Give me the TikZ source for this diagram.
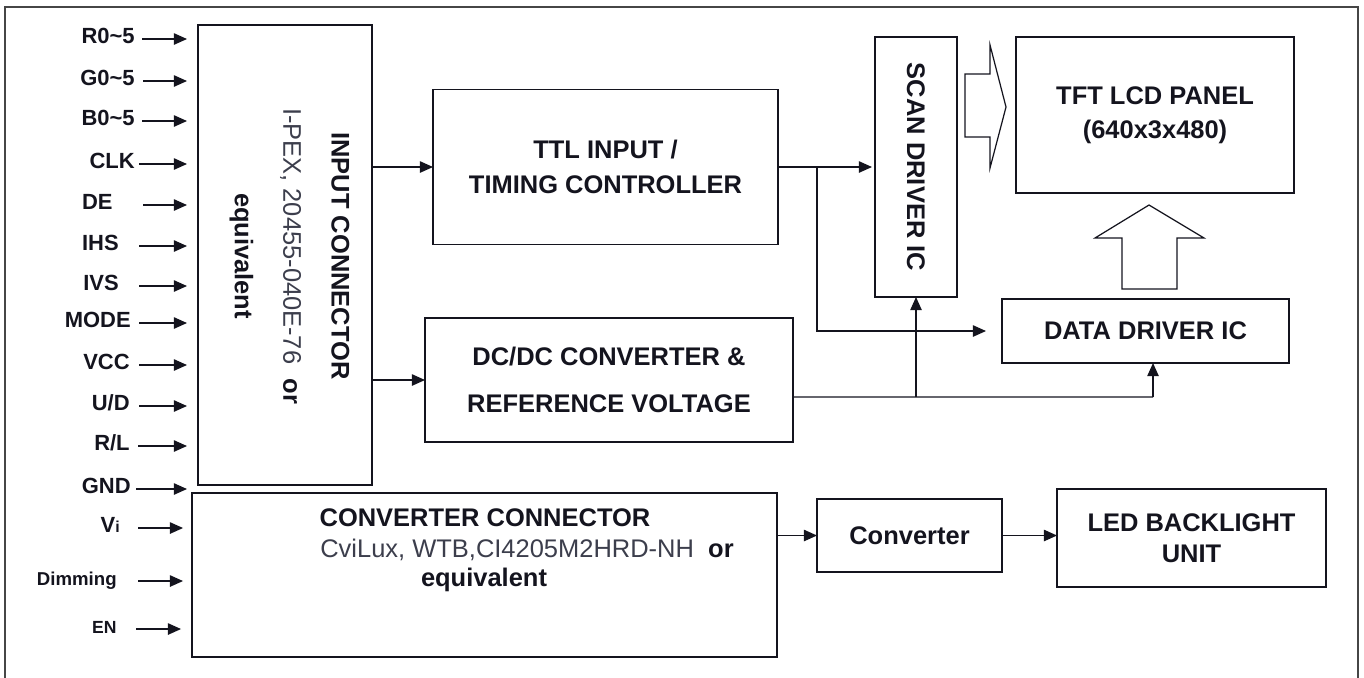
\documentclass[tikz,border=0pt]{standalone}
\usepackage{fontspec}
\setmainfont{Liberation Sans}
\usetikzlibrary{arrows.meta, positioning}
\definecolor{ink}{RGB}{20, 20, 30}
\definecolor{specgray}{RGB}{60, 62, 76}
\definecolor{framegray}{RGB}{70, 70, 70}

\begin{document}
\begin{tikzpicture}[x=0.02cm, y=-0.02cm,
      every node/.style={font=\bfseries\fontsize{14.5}{19.5}\selectfont, text=ink},
      box/.style={rectangle, draw=ink, line width=0.8pt, inner sep=0pt,
                  outer sep=0pt, align=center},
      pin/.style={anchor=mid east, inner sep=0pt,
                  font=\bfseries\fontsize{12.5}{14}\selectfont},
      arrow/.style={-{Triangle[length=7.5pt, width=6.5pt]}, line width=0.8pt, draw=ink},
      link/.style={line width=0.8pt, draw=ink}
    ]
    \useasboundingbox (0,0) rectangle (1364,677);
    \draw[framegray, line width=1.1pt] (5,690) -- (5,7) -- (1358,7) -- (1358,690);

    % blocks
    \node[box, minimum width=3.48cm, minimum height=9.2cm] (inconn) at (285,255) {};
    \node[box, minimum width=6.9cm, minimum height=3.1cm] (ttl) at (605.5,167)
          {TTL INPUT /\\TIMING CONTROLLER};
    \node[box, minimum width=7.36cm, minimum height=2.48cm] (dcdc) at (609,380)
          {DC/DC CONVERTER \&\\[7pt]REFERENCE VOLTAGE};
    \node[box, minimum width=1.64cm, minimum height=5.2cm] (scan) at (916,167) {};
    \node[box, minimum width=5.56cm, minimum height=3.12cm] (panel) at (1155,115)
          {TFT LCD PANEL\\(640x3x480)};
    \node[box, minimum width=5.74cm, minimum height=1.28cm] (datadrv) at (1145.5,331)
          {DATA DRIVER IC};
    \node[box, minimum width=11.7cm, minimum height=3.28cm] (convconn) at (484.5,575) {};
    \node[box, minimum width=3.7cm, minimum height=1.46cm] (conv) at (909.5,535.5)
          {Converter};
    \node[box, minimum width=5.38cm, minimum height=1.96cm] (led) at (1191.5,538)
          {LED BACKLIGHT\\[-2pt]UNIT};

    % texts set sideways
    \node[rotate=-90, align=center, font=\bfseries\fontsize{14.5}{27.5}\selectfont]
          (inconntxt) at (289.5,256)
          {INPUT CONNECTOR\\{\mdseries\color{specgray}I-PEX, 20455-040E-76}\ \ or\\equivalent};
    \node[rotate=-90] (scantxt) at (scan) {SCAN DRIVER IC};

    % converter connector texts
    \node (cctitle) at (485,518) {CONVERTER CONNECTOR};
    \node (ccpart) at (527,550)
          {{\mdseries\color{specgray}CviLux, WTB,CI4205M2HRD-NH}\ \ or};
    \node (ccequiv) at (484,580) {equivalent};

    % input pins
    \foreach \txt/\ty/\tx/\ax/\tgt/\sh [count=\i] in {
        R0\textasciitilde5/39/135/142/inconn/2.2mm,
        G0\textasciitilde5/81/135/143/inconn/2.2mm,
        B0\textasciitilde5/121/135/142/inconn/2.2mm,
        CLK/164/135/139/inconn/2.2mm,
        DE/205/113/143/inconn/2.2mm,
        IHS/246/119/139/inconn/2.2mm,
        IVS/286/119/139/inconn/2.2mm,
        MODE/323/131/139/inconn/2.2mm,
        VCC/365/130/139/inconn/2.2mm,
        {U/D}/406/130/139/inconn/2.2mm,
        {R/L}/446/130/138/inconn/2.2mm,
        GND/489/131/136/inconn/2.2mm,
        {V{\fontsize{9}{10}\selectfont i}}/528/120/138/convconn/1.8mm,
        {{\fontsize{10.6}{12}\selectfont Dimming}}/581/117/138/convconn/1.8mm,
        {{\fontsize{10}{12}\selectfont EN}}/629/117/136/convconn/2.2mm}
    {
      \node[pin] (pin\i) at (\tx,\ty) {\txt};
      \coordinate (tail\i) at (\ax,\ty);
      \draw[arrow, shorten >=\sh] (tail\i) -- (tail\i -| \tgt.west);
    }

    % signal paths
    \draw[arrow] (inconn.east |- ttl.west) -- (ttl.west);
    \draw[arrow] (inconn.east |- dcdc.west) -- (dcdc.west);
    \draw[arrow, shorten >=0.6mm] (ttl.east) -- (scan.west);
    \coordinate (tap) at (817,167);
    \draw[arrow, shorten >=3.2mm] (tap) |- (datadrv.west);
    \coordinate (scanfeed) at (916,397);
    \coordinate (datafeed) at (1153,397);
    \draw[link] ([yshift=-0.34cm]dcdc.east) -- (datafeed);
    \draw[arrow] (scanfeed) -- (scan.south);
    \draw[arrow] (datafeed) -- (datafeed |- datadrv.south);
    \draw[arrow] (conv.west -| convconn.east) -- (conv.west);
    \draw[arrow] (conv.east) -- (conv.east -| led.west);

    % hollow block arrows
    \draw[ink, line width=0.7pt] (965,74) -- (990,74) -- (990,45) -- (1006,107)
          -- (990,168) -- (990,137) -- (965,137) -- cycle;
    \draw[ink, line width=0.7pt] (1122,289) -- (1122,238) -- (1095,238) -- (1149,205)
          -- (1204,238) -- (1177,238) -- (1177,289) -- cycle;
  \end{tikzpicture}
\end{document}
